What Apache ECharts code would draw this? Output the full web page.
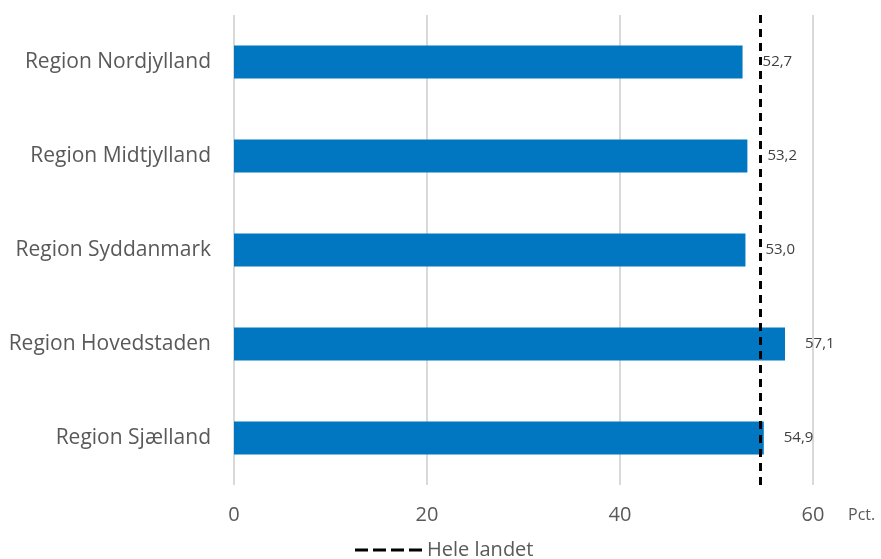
<!DOCTYPE html>
<html><head><meta charset="utf-8">
<script src="https://cdn.jsdelivr.net/npm/echarts@6/dist/echarts.min.js"></script>
<style>html,body{margin:0;padding:0;background:#fff}#c{width:881px;height:559px}</style>
</head><body><div id="c"></div>
<script>
var categories = ['Region Nordjylland','Region Midtjylland','Region Syddanmark','Region Hovedstaden','Region Sjælland'];
var values = [52.7, 53.2, 53.0, 57.1, 54.9];
var nationalValue = 54.5;
var xTicks = [0, 20, 40, 60];

var chart = echarts.init(document.getElementById('c'));
var font = '"Open Sans", "Noto Sans", sans-serif';
chart.setOption({
  animation: false,
  textStyle: {fontFamily: font},
  grid: {left: 234, right: 68, top: 15, bottom: 74, containLabel: false},
  legend: {
    bottom: -6, left: 350,
    itemWidth: 67, itemHeight: 3, itemGap: 10,
    textStyle: {fontSize: 20, color: '#595959', fontFamily: font},
    data: [{name: 'Hele landet', icon: 'path://M0,0h13v3h-13z M18,0h13v3h-13z M36,0h13v3h-13z M54,0h13v3h-13z', itemStyle: {color: '#000'}}]
  },
  xAxis: {
    type: 'value', min: xTicks[0], max: xTicks[xTicks.length-1], interval: 20,
    name: 'Pct.', nameLocation: 'end', nameGap: 35,
    nameTextStyle: {fontSize: 16, color: '#595959', verticalAlign: 'top', padding: [22,0,0,0]},
    axisLine: {show: false}, axisTick: {show: false},
    axisLabel: {fontSize: 20, color: '#595959', margin: 20},
    splitLine: {show: true, lineStyle: {color: '#d9d9d9', width: 2}}
  },
  yAxis: {
    type: 'category', data: categories, inverse: true,
    axisLine: {show: false}, axisTick: {show: false},
    axisLabel: {fontSize: 21, color: '#595959', margin: 23}
  },
  series: [{
    type: 'bar', name: 'Andel', data: values, barWidth: 33,
    itemStyle: {color: '#0077c0'},
    label: {show: true, position: 'right', distance: 20, fontSize: 15, color: '#404040',
      formatter: function(p){ return p.value.toFixed(1).replace('.', ','); }}
  }, {
    type: 'line', name: 'Hele landet', data: [], symbol: 'none',
    lineStyle: {color: '#000', width: 3, type: [8,6]},
    itemStyle: {color: '#000'},
    markLine: {
      silent: true, symbol: 'none', label: {show: false},
      lineStyle: {color: '#000', width: 3, type: [8,6]},
      data: [{xAxis: nationalValue}]
    }
  }]
});
</script></body></html>
